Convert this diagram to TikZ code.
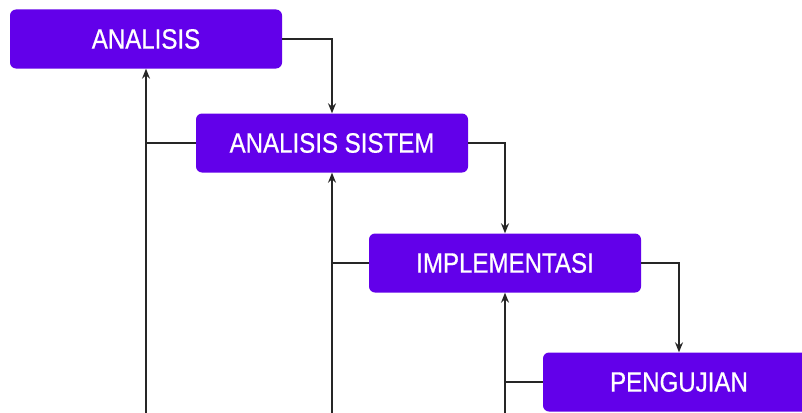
\documentclass[tikz,border=0pt]{standalone}
\usepackage{fontspec}
\setmainfont{Liberation Sans}
\newfontfamily\stagefont[FakeStretch=0.86,FakeBold=0.6]{Liberation Sans}
\usetikzlibrary{arrows.meta}
\definecolor{stagepurple}{RGB}{98,0,234}

\begin{document}
\begin{tikzpicture}[x=1pt, y=-1pt,
  stage/.style={fill=stagepurple, draw=none, rounded corners=6pt,
    minimum width=272pt, minimum height=59pt, inner sep=0pt,
    text=white, font=\stagefont\fontsize{28}{30}\selectfont},
  link/.style={draw=black!85, line width=1.3pt},
  flow/.style={link, -{Stealth[length=10pt,width=8pt]}}]

\useasboundingbox (0,0) rectangle (802,412);
\clip (0,0) rectangle (802,412);



% Stages
\path
(146,39) node [stage] (analisis) {ANALISIS};

\path
(332,143) node [stage] (sistem) {ANALISIS SISTEM};

\path
(505,263) node [stage] (implementasi) {IMPLEMENTASI};

\path
(679,382) node [stage] (pengujian) {PENGUJIAN};



% Forward flow
\draw[flow] (analisis.east) -| (sistem.north);
\draw[flow] (sistem.east) -| (implementasi.north);
\draw[flow] (implementasi.east) -| (pengujian.north);



% Feedback flow
\coordinate (backA) at (146,430);
\coordinate (backB) at (332,430);
\coordinate (backC) at (505,430);

\draw[flow] (backA) -- (analisis.south);
\draw[link] (sistem.west) -- (sistem.west -| analisis.south);

\draw[flow] (backB) -- (sistem.south);
\draw[link] (implementasi.west) -- (implementasi.west -| sistem.south);

\draw[flow] (backC) -- (implementasi.south);
\draw[link] (pengujian.west) -- (pengujian.west -| implementasi.south);


\end{tikzpicture}
\end{document}
